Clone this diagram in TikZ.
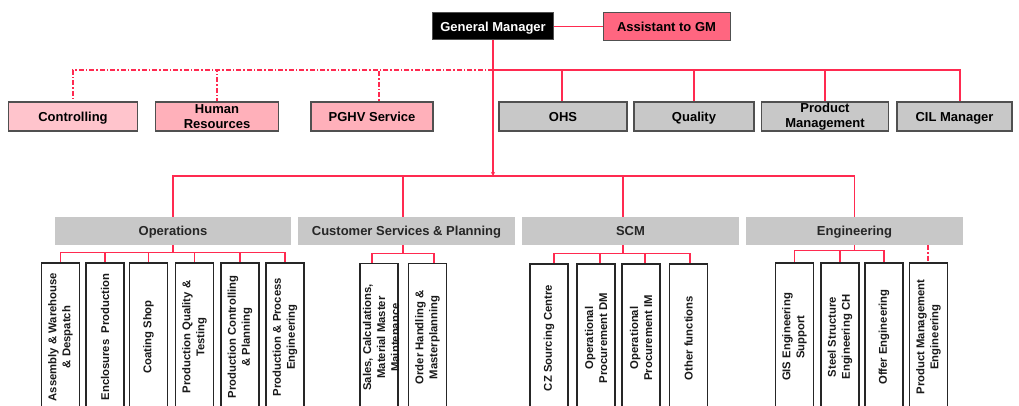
\documentclass[tikz,border=0pt]{standalone}
\usepackage{fontspec}
\setmainfont{Liberation Sans}
\usetikzlibrary{arrows.meta}
\definecolor{redl}{HTML}{FF2A50}
\definecolor{asst}{HTML}{FF6680}
\definecolor{pinkA}{HTML}{FFC4CC}
\definecolor{pinkB}{HTML}{FFB0BA}
\definecolor{grayA}{HTML}{C8C8C8}
\definecolor{edge}{HTML}{505050}
\tikzset{
  redline/.style={draw=redl, line width=1.2pt},
  reddash/.style={draw=redl, line width=1.2pt, dash pattern=on 5pt off 2pt on 1.5pt off 2pt},
  topbox/.style={draw=edge, line width=1pt, minimum height=28pt, inner sep=0pt, text depth=0pt, font=\fontsize{13}{15}\selectfont\bfseries},
  staffbox/.style={draw=edge, line width=1.2pt, minimum height=29pt, inner sep=0pt, align=center, font=\fontsize{13}{15}\selectfont\bfseries},
  oneline/.style={text depth=0pt},
  divbox/.style={fill=grayA, draw=none, minimum height=28pt, minimum width=217pt, inner sep=0pt, text depth=0pt, text=black!85, font=\fontsize{13}{15}\selectfont\bfseries},
  childbox/.style={draw=black!85, line width=1.4pt, fill=white, minimum width=38pt, minimum height=148pt, inner sep=0pt},
  childtext/.style={rotate=90, align=center, inner sep=0pt, text=black!90, font=\fontsize{11.3}{14}\selectfont\bfseries},
}
\begin{document}
\begin{tikzpicture}[x=1pt,y=-1pt]
\useasboundingbox (0,0) rectangle (1019,406);
\clip (0,0) rectangle (1019,406);
\fill[white] (0,0) rectangle (1019,406);

% top
\node[topbox, fill=black, text=white, minimum width=121pt, minimum height=27pt] (gm) at (493,26.5) {General Manager};
\node[topbox, fill=asst, minimum width=127pt] (asst) at (666.5,26.5) {Assistant to GM};
\draw[redline] (gm.east) -- (gm.east -| asst.west);

% staff
\coordinate (st) at (493,70);
\node[staffbox, oneline, fill=pinkA, minimum width=129pt] (ctrl) at (73,116.5) {Controlling};
\node[staffbox, fill=pinkB, minimum width=123pt] (hr) at (217,116.5) {Human\\Resources};
\node[staffbox, oneline, fill=pinkB, minimum width=122pt] (pghv) at (372,116.5) {PGHV Service};
\node[staffbox, oneline, fill=grayA, minimum width=128pt] (ohs) at (563,116.5) {OHS};
\node[staffbox, oneline, fill=grayA, minimum width=120pt] (qual) at (694,116.5) {Quality};
\node[staffbox, fill=grayA, minimum width=127pt] (pm) at (825,116.5) {Product\\Management};
\node[staffbox, oneline, fill=grayA, minimum width=115pt] (cil) at (954.5,116.5) {CIL Manager};

\draw[reddash] (st) -| (ctrl.north);
\draw[reddash] (st) -| (hr.north);
\draw[reddash] (st) -| ([xshift=7pt]pghv.north);
\draw[redline] (st) -| ([xshift=-1pt]ohs.north);
\draw[redline] (st) -| (qual.north);
\draw[redline] (st) -| (pm.north);
\draw[redline] (st) -| ([xshift=5.5pt]cil.north);

% main bus
\coordinate (bus) at (493,176);
\draw[redline, -{Stealth[length=4pt,width=4pt]}] (gm.south) -- (bus);

% divisions
\node[divbox, minimum width=236pt] (ops) at (173,231) {Operations};
\node[divbox] (csp) at (406.5,231) {Customer Services \& Planning};
\node[divbox] (scm) at (630.5,231) {SCM};
\node[divbox] (eng) at (854.5,231) {Engineering};

\draw[redline] (bus) -| (ops.north);
\draw[redline] (bus) -| ([xshift=-3.5pt]csp.north);
\draw[redline] (bus) -| ([xshift=-7.5pt]scm.north);
\draw[redline] (bus) -| (eng.north);

% Operations children
\node[childbox] (o1) at (60.5,337) {};
\node[childbox] (o2) at (105,337) {};
\node[childbox] (o3) at (148.5,337) {};
\node[childbox] (o4) at (194.5,337) {};
\node[childbox] (o5) at (240,337) {};
\node[childbox] (o6) at (285,337) {};
\node[childtext] at (o1.center) {Assembly \& Warehouse\\\& Despatch};
\node[childtext] at (o2.center) {Enclosures~ Production};
\node[childtext] at (o3.center) {Coating Shop};
\node[childtext] at (o4.center) {Production Quality \&\\Testing};
\node[childtext] at (o5.center) {Production Controlling\\\& Planning};
\node[childtext] at (o6.center) {Production \& Process\\Engineering};
\foreach \c in {o1,o2,o3,o4,o5,o6}
  \draw[redline] (ops.south) -- ++(0,7) -| (\c.north);

% CS&P children
\node[childbox] (c1) at (379,337.5) {};
\node[childbox] (c2) at (427.5,337.5) {};
\node[childtext] at ([xshift=2pt]c1.center) {Sales, Calculations,\\Material Master\\Maintenance};
\node[childtext] at (c2.center) {Order Handling \&\\Masterplanning};
\draw[redline] ([xshift=-3.5pt]csp.south) -- ++(0,8) -| ([xshift=-7pt]c1.north);
\draw[redline] ([xshift=-3.5pt]csp.south) -- ++(0,8) -| ([xshift=6.5pt]c2.north);

% SCM children
\node[childbox] (s1) at (549,338) {};
\node[childbox] (s2) at (596,338) {};
\node[childbox] (s3) at (641,338) {};
\node[childbox] (s4) at (688.5,338) {};
\node[childtext] at (s1.center) {CZ Sourcing Centre};
\node[childtext] at (s2.center) {Operational\\Procurement DM};
\node[childtext] at (s3.center) {Operational\\Procurement IM};
\node[childtext] at (s4.center) {Other functions};
\draw[redline] ([xshift=-7.5pt]scm.south) -- ++(0,8) -| ([xshift=5pt]s1.north);
\draw[redline] ([xshift=-7.5pt]scm.south) -- ++(0,8) -| ([xshift=4pt]s2.north);
\draw[redline] ([xshift=-7.5pt]scm.south) -- ++(0,8) -| ([xshift=4pt]s3.north);
\draw[redline] ([xshift=-7.5pt]scm.south) -- ++(0,8) -| ([xshift=1.5pt]s4.north);

% Engineering children
\node[childbox] (e1) at (794.5,337) {};
\node[childbox] (e2) at (840,337) {};
\node[childbox] (e3) at (884,337) {};
\node[childbox] (e4) at (928.5,337) {};
\node[childtext] at (e1.center) {GIS Engineering\\Support};
\node[childtext] at (e2.center) {Steel Structure\\Engineering CH};
\node[childtext] at (e3.center) {Offer Engineering};
\node[childtext] at (e4.center) {Product Management\\Engineering};
\foreach \c in {e1,e2,e3}
  \draw[redline] (eng.south) -- ++(0,5) -| (\c.north);
\draw[reddash] ([xshift=-0.5pt]e4.north |- eng.south) -- ([xshift=-0.5pt]e4.north);
\end{tikzpicture}
\end{document}
